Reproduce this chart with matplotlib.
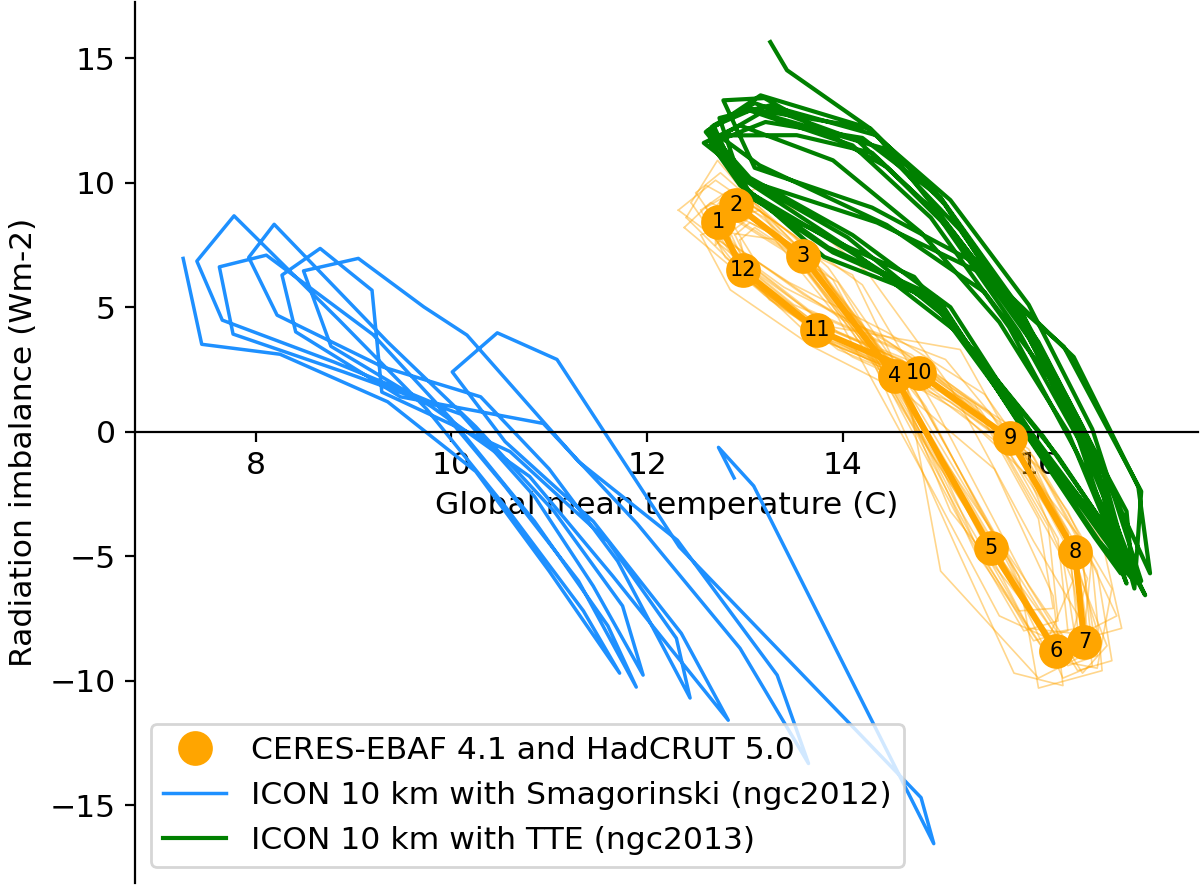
import matplotlib
matplotlib.use("Agg")
import matplotlib.pyplot as plt

# monthly climatology of observations (Jan..Dec)
obs_months = ["1", "2", "3", "4", "5", "6", "7", "8", "9", "10", "11", "12"]
obs_t = [12.73, 12.91, 13.59, 14.53, 15.51, 16.18, 16.47, 16.37, 15.71, 14.78, 13.74, 12.98]
obs_r = [8.41, 9.10, 7.05, 2.23, -4.66, -8.82, -8.46, -4.82, -0.27, 2.34, 4.08, 6.49]

# individual observed years
obs_years_t = [
    [12.55, 12.80, 13.40, 14.35, 15.30, 15.95, 16.30, 16.20, 15.55, 14.60, 13.55, 12.80],
    [12.62, 12.85, 13.95, 14.60, 15.65, 16.30, 16.60, 16.45, 15.80, 14.90, 13.90, 13.05],
    [12.32, 12.70, 13.50, 14.45, 15.10, 16.10, 16.40, 16.30, 15.60, 14.70, 13.65, 12.90],
    [12.90, 13.05, 14.10, 14.70, 15.75, 16.40, 16.75, 16.60, 15.95, 15.00, 13.95, 13.15],
    [12.70, 12.95, 13.55, 14.20, 15.45, 16.20, 16.50, 16.35, 15.40, 14.75, 13.70, 12.95],
    [12.80, 12.98, 13.65, 14.65, 15.00, 16.00, 16.55, 16.45, 15.80, 14.85, 13.80, 13.00],
    [12.45, 12.72, 13.30, 14.25, 15.20, 15.85, 16.20, 16.10, 15.45, 14.55, 13.50, 12.75],
    [12.85, 13.05, 13.80, 14.80, 15.80, 16.00, 16.65, 16.55, 15.90, 14.95, 13.90, 13.10],
    [12.60, 12.88, 13.45, 14.50, 15.55, 16.05, 16.45, 16.30, 15.70, 15.20, 13.75, 12.95],
    [12.75, 12.92, 13.70, 14.55, 15.35, 16.15, 16.40, 16.25, 15.60, 14.70, 13.65, 13.00],
    [12.65, 12.85, 13.60, 14.35, 15.60, 16.30, 16.85, 16.65, 15.85, 14.85, 13.85, 13.05],
    [12.95, 13.10, 13.75, 14.75, 15.70, 16.25, 16.55, 16.40, 15.75, 14.80, 13.80, 13.05],
    [12.40, 12.60, 13.20, 14.10, 15.25, 15.90, 16.35, 16.50, 15.95, 15.10, 14.10, 13.20],
    [12.85, 13.00, 14.20, 14.95, 15.90, 16.45, 16.70, 16.20, 15.50, 14.55, 13.60, 12.85],
    [12.50, 12.75, 13.85, 14.85, 15.65, 16.20, 16.60, 16.75, 16.05, 15.25, 14.20, 13.25],
    [12.70, 12.82, 13.35, 14.30, 15.15, 15.80, 16.15, 16.00, 15.35, 14.40, 13.40, 12.70],
    [12.60, 12.95, 13.65, 14.60, 15.40, 16.10, 16.45, 16.55, 15.65, 14.85, 13.95, 12.90],
    [12.85, 13.15, 13.90, 14.40, 15.45, 16.35, 16.60, 16.30, 15.85, 15.05, 14.00, 13.10],
    [12.38, 12.65, 13.25, 13.95, 14.95, 15.60, 16.10, 16.35, 15.90, 15.20, 14.25, 13.35],
    [12.95, 13.20, 14.25, 15.10, 15.95, 16.50, 16.80, 16.30, 15.45, 14.45, 13.45, 12.60],
    [12.55, 12.90, 13.55, 14.30, 15.20, 15.75, 16.25, 16.15, 15.55, 14.65, 13.70, 12.85],
]
obs_years_r = [
    [8.9, 9.6, 7.6, 2.9, -4.1, -8.4, -8.0, -4.3, 0.2, 2.9, 4.6, 7.0],
    [8.1, 8.7, 6.0, 1.7, -5.3, -9.4, -9.0, -5.3, -0.8, 1.9, 3.6, 6.0],
    [8.9, 10.1, 7.9, 3.0, -3.2, -8.1, -7.9, -4.0, 0.4, 3.1, 4.9, 7.2],
    [7.9, 8.4, 6.3, 1.4, -5.5, -9.6, -9.2, -5.6, -1.0, 1.6, 3.3, 5.8],
    [8.6, 9.3, 7.4, 3.6, -4.3, -9.0, -8.7, -4.6, 0.9, 2.6, 4.4, 6.8],
    [8.2, 8.8, 6.8, 1.9, -5.6, -9.9, -8.8, -5.0, -0.5, 2.1, 3.8, 6.2],
    [9.2, 10.9, 8.2, 3.4, -3.6, -8.0, -7.6, -3.8, 0.6, 3.3, 5.1, 7.5],
    [8.0, 8.6, 6.2, 1.2, -5.8, -10.3, -9.6, -5.4, -0.7, 1.8, 3.5, 5.9],
    [8.7, 9.4, 7.3, 2.5, -4.5, -8.6, -8.3, -4.7, -0.2, 3.3, 4.3, 6.6],
    [8.3, 8.9, 6.9, 2.0, -4.8, -9.3, -8.9, -5.1, -0.5, 2.2, 3.9, 6.3],
    [8.8, 9.7, 7.6, 2.8, -4.4, -8.5, -7.9, -4.4, -0.1, 2.4, 4.2, 6.7],
    [7.7, 8.2, 6.5, 1.6, -5.2, -9.9, -9.4, -5.2, -0.6, 2.0, 3.7, 6.1],
    [8.6, 9.9, 8.6, 4.0, -3.0, -7.9, -8.1, -5.9, -1.3, 1.2, 3.0, 5.5],
    [8.9, 9.3, 5.9, 0.9, -6.2, -9.7, -8.6, -3.6, 0.8, 3.4, 5.5, 7.6],
    [9.6, 10.4, 6.6, 1.0, -5.0, -9.2, -9.5, -6.3, -1.6, 1.3, 3.1, 5.3],
    [7.5, 8.0, 7.7, 3.8, -2.8, -7.2, -7.1, -3.5, 1.1, 3.8, 5.8, 7.8],
    [9.0, 9.8, 7.0, 2.2, -4.9, -9.0, -8.7, -4.9, -0.3, 2.6, 4.0, 7.0],
    [8.5, 8.9, 6.1, 2.5, -4.2, -9.1, -8.0, -4.1, -0.9, 2.9, 4.5, 6.9],
    [8.2, 9.2, 8.0, 4.6, -2.6, -7.4, -8.3, -6.0, -1.8, 0.8, 2.9, 5.0],
    [9.5, 9.9, 6.4, 1.8, -4.4, -8.0, -7.4, -3.2, 1.5, 4.0, 6.0, 8.2],
    [7.9, 8.5, 6.9, 2.9, -5.0, -9.7, -10.2, -6.6, -1.5, 1.5, 3.4, 5.7],
]

# ICON 10 km with Smagorinski (ngc2012), monthly means
smag_t = [
    7.26, 7.45, 8.25, 9.35, 10.25, 11.00, 11.72, 11.35, 10.55, 9.75, 8.85, 7.78,
    7.40, 7.66, 8.80, 9.85, 10.55, 11.30, 11.89, 11.60, 10.85, 10.00, 9.20, 8.11,
    7.63, 7.77, 8.90, 10.10, 10.85, 11.45, 11.96, 11.75, 11.05, 10.25, 9.35, 8.19,
    7.93, 8.22, 9.30, 10.30, 11.00, 11.70, 12.44, 12.30, 11.60, 10.60, 9.29, 9.19, 8.66,
    8.27, 8.41, 9.48, 10.94, 11.90, 12.95, 13.65, 13.33, 12.31, 11.30, 10.16, 9.72, 9.05,
    8.49, 8.77, 9.80, 10.80, 11.65, 12.30, 12.83, 12.35, 11.45, 10.55, 10.01, 10.47, 11.08,
    12.33, 14.80, 14.93, 13.09, 12.73, 12.89,
]
smag_r = [
    6.96, 3.51, 3.11, 1.20, -1.60, -5.60, -9.70, -7.20, -3.00, 0.90, 4.50, 8.67,
    6.85, 4.48, 2.80, 1.10, -2.20, -6.00, -10.26, -7.80, -3.60, 0.50, 3.90, 7.09,
    6.62, 3.92, 2.40, 0.70, -2.60, -6.20, -9.78, -7.00, -3.20, 0.20, 3.60, 8.33,
    7.00, 4.68, 2.60, 1.40, -1.50, -5.20, -10.70, -8.30, -4.40, -0.80, 1.59, 5.68, 7.36,
    6.29, 4.01, 1.40, 0.33, -3.70, -8.70, -13.33, -9.78, -4.36, -1.20, 3.88, 5.01, 6.96,
    6.46, 3.43, 1.00, -1.80, -5.80, -9.00, -11.59, -8.10, -3.60, -0.40, 2.40, 3.97, 2.90,
    -4.63, -14.70, -16.55, -2.18, -0.63, -1.86,
]

# ICON 10 km with TTE (ngc2013), monthly means
tte_t = [
    13.26, 13.43, 14.28, 15.00, 15.90, 16.55, 16.95, 16.70, 16.05, 15.20, 14.05, 13.00,
    12.60, 13.16, 14.28, 15.05, 15.85, 16.50, 16.94, 16.62, 15.95, 15.05, 14.05, 13.05,
    12.66, 13.05, 14.10, 14.90, 15.70, 16.40, 17.09, 16.80, 16.10, 14.85, 13.85, 12.95,
    12.65, 13.21, 14.20, 15.00, 15.80, 16.45, 17.14, 17.02, 16.36, 15.37, 14.30, 13.10,
    12.78, 13.20, 14.45, 15.15, 15.95, 16.60, 16.84, 16.57, 15.89, 15.00, 13.81, 12.94,
    12.70, 13.53, 14.30, 15.05, 15.75, 16.35, 16.90, 16.75, 16.00, 15.10, 14.10, 13.05,
    12.62, 13.10, 14.15, 14.95, 15.80, 16.48, 17.00, 16.85, 16.20, 14.73, 13.95, 13.04,
    12.72, 13.16, 14.40, 15.20, 16.00, 16.62, 16.98, 17.05, 16.26, 15.40, 14.35, 13.10,
    12.58, 12.95, 13.90, 14.80, 15.60, 16.30, 16.88, 16.70, 16.05, 15.05, 14.05, 12.90,
    12.68, 13.00, 14.25, 15.10, 15.90, 16.55, 17.05, 16.78, 16.12, 14.95, 13.90, 13.00,
    12.74, 13.25, 14.35, 15.00, 15.85, 16.50, 16.96, 16.90, 16.30, 15.45, 14.45, 13.15,
    12.66,
]
tte_r = [
    15.65, 14.52, 12.18, 9.40, 3.80, -1.20, -5.30, -3.90, -0.20, 3.90, 7.40, 10.10,
    12.04, 13.51, 12.18, 9.10, 4.60, -0.60, -5.83, -4.40, -0.50, 4.80, 7.30, 9.60,
    12.24, 12.90, 11.50, 8.60, 4.20, -0.90, -6.57, -4.50, -1.10, 5.60, 7.40, 9.90,
    11.57, 12.44, 11.80, 9.40, 5.00, 0.20, -5.69, -2.22, 3.00, 6.75, 9.00, 10.60,
    13.31, 13.40, 10.63, 7.90, 3.50, -1.40, -5.69, -4.22, -0.21, 5.20, 7.02, 10.03,
    11.90, 11.91, 11.20, 8.40, 4.90, 0.40, -6.10, -4.60, -0.50, 5.00, 7.90, 10.20,
    12.10, 13.20, 11.70, 8.80, 4.00, -0.80, -5.90, -4.80, -1.00, 6.22, 7.60, 9.43,
    11.80, 12.80, 11.40, 8.10, 3.60, -1.10, -6.30, -2.40, 3.41, 6.40, 8.40, 10.00,
    11.60, 12.30, 10.90, 8.00, 4.40, 0.00, -5.50, -4.10, -0.70, 4.60, 7.80, 10.40,
    12.30, 13.00, 12.20, 9.30, 5.10, 0.10, -6.00, -4.90, -1.30, 5.40, 7.20, 9.60,
    12.60, 13.10, 11.90, 8.70, 4.30, -0.40, -5.70, -3.20, 1.20, 5.60, 8.30, 10.70,
    12.10,
]

OBS_LABEL = "CERES-EBAF 4.1 and HadCRUT 5.0"
SMAG_LABEL = "ICON 10 km with Smagorinski (ngc2012)"
TTE_LABEL = "ICON 10 km with TTE (ngc2013)"


def main():
    plt.rcParams["font.family"] = "DejaVu Sans"
    plt.rcParams["font.size"] = 11.3

    fig = plt.figure(figsize=(6.0, 4.425), dpi=200)
    ax = fig.add_axes([135 / 1200, 2 / 885, 1063 / 1200, 881 / 885])

    ax.plot(smag_t, smag_r, color="dodgerblue", linewidth=1.25,
            label=SMAG_LABEL, zorder=2)

    for yt, yr in zip(obs_years_t, obs_years_r):
        ax.plot(yt + [yt[0]], yr + [yr[0]], color="orange", linewidth=0.6,
                alpha=0.45, zorder=2.2)

    ax.plot(tte_t, tte_r, color="green", linewidth=1.5,
            label=TTE_LABEL, zorder=2.5)

    ax.plot(obs_t + [obs_t[0]], obs_r + [obs_r[0]], color="orange",
            linewidth=2.2, zorder=3)
    ax.plot(obs_t, obs_r, "o", color="orange", markersize=11.5,
            linestyle="none", label=OBS_LABEL, zorder=4)
    for m, x, y in zip(obs_months, obs_t, obs_r):
        ax.text(x, y, m, ha="center", va="center", fontsize=7.5, zorder=5)

    ax.set_xlim(6.768, 17.63)
    ax.set_ylim(-18.13, 17.26)
    ax.set_xticks([8, 10, 12, 14, 16])
    ax.set_yticks([-15, -10, -5, 0, 5, 10, 15])

    ax.spines["bottom"].set_position("zero")
    ax.spines["top"].set_visible(False)
    ax.spines["right"].set_visible(False)

    ax.set_xlabel("Global mean temperature (C)")
    ax.set_ylabel("Radiation imbalance (Wm-2)")

    handles, labels = ax.get_legend_handles_labels()
    order = [labels.index(OBS_LABEL), labels.index(SMAG_LABEL), labels.index(TTE_LABEL)]
    ax.legend([handles[i] for i in order], [labels[i] for i in order],
              loc="lower left", fontsize=11.3)

    fig.savefig("out.png", dpi=200)
    plt.close(fig)


if __name__ == "__main__":
    main()
